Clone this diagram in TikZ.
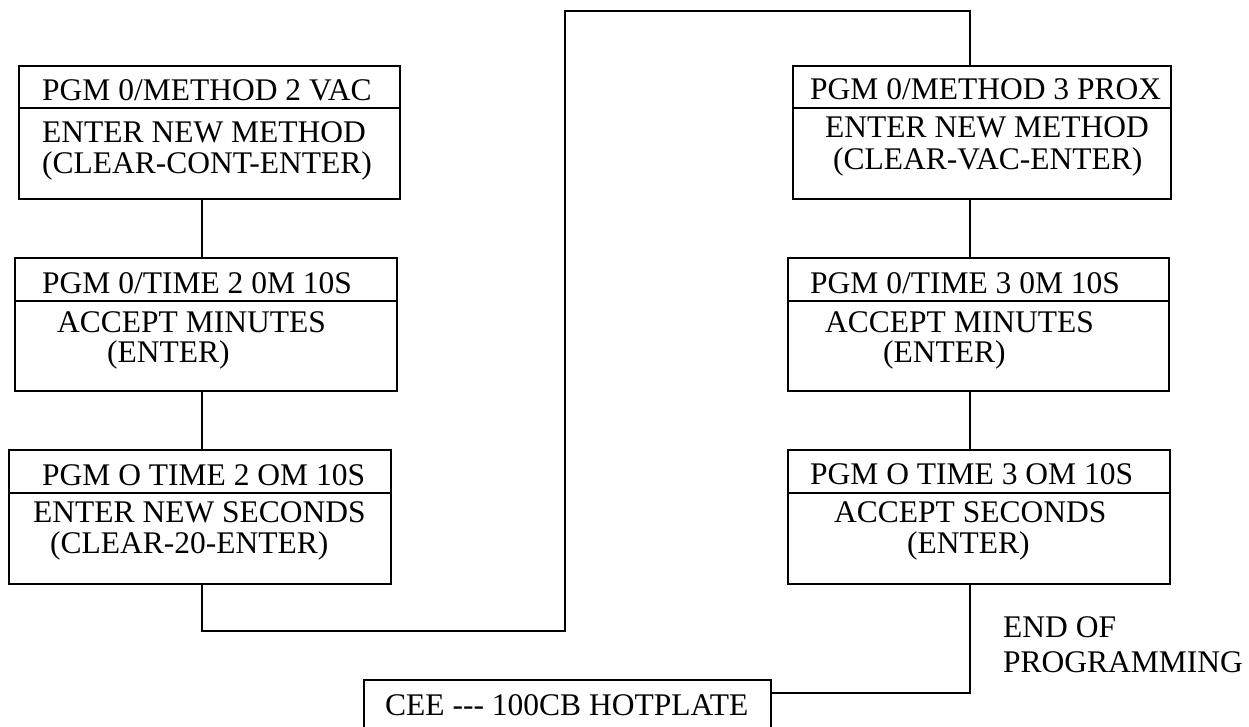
\documentclass[tikz,border=0pt]{standalone}
\usepackage{fontspec}
\setmainfont{Liberation Serif}
\begin{document}
\begin{tikzpicture}[x=1pt,y=-1pt,
  boxpart/.style={draw,line width=1.6pt,inner sep=0pt,anchor=north west},
  txt/.style={anchor=base west,inner sep=0pt,font=\fontsize{31.5}{36}\selectfont},
  conn/.style={line width=1.2pt}]
\clip (0,0) rectangle (1249,727);
\fill[white] (0,0) rectangle (1249,727);
% left column
\node[boxpart,minimum width=381,minimum height=42] (L1h) at (18,65) {};
\node[boxpart,minimum width=381,minimum height=91] (L1b) at (18,107) {};
\node[boxpart,minimum width=382,minimum height=43] (L2h) at (14,257) {};
\node[boxpart,minimum width=382,minimum height=90] (L2b) at (14,300) {};
\node[boxpart,minimum width=382,minimum height=43] (L3h) at (8,449) {};
\node[boxpart,minimum width=382,minimum height=91] (L3b) at (8,492) {};
% right column
\node[boxpart,minimum width=378,minimum height=42] (R1h) at (792,65) {};
\node[boxpart,minimum width=378,minimum height=91] (R1b) at (792,107) {};
\node[boxpart,minimum width=381,minimum height=43] (R2h) at (787,257) {};
\node[boxpart,minimum width=381,minimum height=90] (R2b) at (787,300) {};
\node[boxpart,minimum width=382,minimum height=43] (R3h) at (787,449) {};
\node[boxpart,minimum width=382,minimum height=91] (R3b) at (787,492) {};
% final box
\node[boxpart,minimum width=407,minimum height=70] (HP) at (363,679) {};
% texts
\node[txt] (t1) at (42,101) {PGM 0/METHOD 2 VAC};
\node[txt] (t2) at (42,143) {ENTER NEW METHOD};
\node[txt] (t3) at (42,174) {(CLEAR-CONT-ENTER)};
\node[txt] (t4) at (42,293) {PGM 0/TIME 2 0M 10S};
\node[txt] (t5) at (57,332) {ACCEPT MINUTES};
\node[txt] (t6) at (107,362) {(ENTER)};
\node[txt] (t7) at (42,485) {PGM O TIME 2 OM 10S};
\node[txt] (t8) at (33,522) {ENTER NEW SECONDS};
\node[txt] (t9) at (50,553) {(CLEAR-20-ENTER)};
\node[txt] (u1) at (810,100) {PGM 0/METHOD 3 PROX};
\node[txt] (u2) at (825,138) {ENTER NEW METHOD};
\node[txt] (u3) at (833,170) {(CLEAR-VAC-ENTER)};
\node[txt] (u4) at (810,293) {PGM 0/TIME 3 0M 10S};
\node[txt] (u5) at (825,332) {ACCEPT MINUTES};
\node[txt] (u6) at (883,362) {(ENTER)};
\node[txt] (u7) at (810,484) {PGM O TIME 3 OM 10S};
\node[txt] (u8) at (834,522) {ACCEPT SECONDS};
\node[txt] (u9) at (907,553) {(ENTER)};
\node[txt] (e1) at (1003,637) {END OF};
\node[txt] (e2) at (1003,672) {PROGRAMMING};
\node[txt] (h1) at (385,715) {CEE -{}-{}- 100CB HOTPLATE};
% connector guides
\coordinate (cl) at (202,0);
\coordinate (cr) at (970,0);
\coordinate (cm) at (565,0);
\coordinate (ytop) at (0,11);
\coordinate (ybot) at (0,631);
\coordinate (yhp) at (0,693);
% connectors
\draw[conn] (L1b.south -| cl) -- (L2h.north -| cl);
\draw[conn] (L2b.south -| cl) -- (L3h.north -| cl);
\draw[conn] (L3b.south -| cl) -- (cl |- ybot) -- (cm |- ybot) -- (cm |- ytop) -- (cr |- ytop) -- (R1h.north -| cr);
\draw[conn] (R1b.south -| cr) -- (R2h.north -| cr);
\draw[conn] (R2b.south -| cr) -- (R3h.north -| cr);
\draw[conn] (R3b.south -| cr) -- (cr |- yhp) -- (HP.east |- yhp);
\end{tikzpicture}
\end{document}
